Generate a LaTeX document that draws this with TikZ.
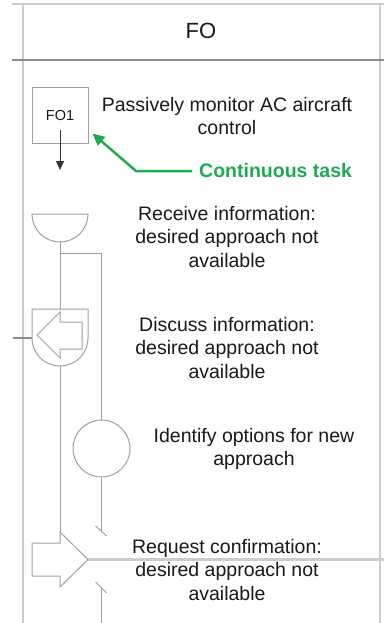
\documentclass[tikz,border=0pt]{standalone}
\usepackage{fontspec}
\setmainfont{Liberation Sans}
\usetikzlibrary{arrows.meta,positioning,calc}
\definecolor{lanegray}{RGB}{205,205,205}
\definecolor{shapegray}{RGB}{160,160,160}
\definecolor{darkline}{RGB}{140,140,140}
\definecolor{taskgreen}{RGB}{30,170,80}

\begin{document}
\begin{tikzpicture}[
  x=1pt, y=1pt,
  lane/.style={lanegray, line width=1.5pt},
  headline/.style={darkline, line width=1.2pt},
  sym/.style={draw=shapegray, line width=1pt},
  link/.style={shapegray, line width=1pt},
  inbound/.style={darkline, line width=2.5pt},
  outbound/.style={lanegray, line width=2.5pt},
  desc/.style={font=\fontsize{19.5}{23.5}\selectfont, align=center, text=black!90},
  note/.style={-{Triangle[length=9pt, width=8pt]}, black!80, line width=0.8pt},
  hint/.style={-{Triangle[length=12pt, width=11pt]}, taskgreen, line width=2.5pt}
]
  \useasboundingbox (0,0) rectangle (384,-623);

  % swim lane
  \draw[lane] (12,-4) -- (384,-4);
  \draw[lane] (23,-4) -- (23,-623);
  \draw[lane] (380,-4) -- (380,-623);
  \draw[headline] (12,-60) -- (384,-60);
  \node[font=\fontsize{22}{26}\selectfont, text=black!90] (lanehead) at (201,-31) {FO};

  % FO1 continuous task
  \node[sym, minimum width=56pt, minimum height=55pt, font=\fontsize{14.5}{17}\selectfont, text=black!90] (fo1) at (60,-115.5) {FO1};
  \node[desc] (fo1txt) at (227,-116) {Passively monitor AC aircraft\\control};
  \coordinate (fo1tail) at (60,-130);
  \coordinate (fo1next) at (60,-170);
  \draw[note] (fo1tail) -- (fo1next);

  \node[font=\fontsize{19.5}{23.5}\selectfont\bfseries, text=taskgreen, anchor=west, inner sep=1pt] (cont) at (198,-171) {Continuous task};
  \coordinate (bend) at (136,-171);
  \coordinate (hinttip) at ($(fo1.south east)+(4,10)$);
  \draw[hint] ([xshift=-6pt]cont.west) -- (bend) -- (hinttip);

  % receive information
  \coordinate (rcv) at (60,-214);
  \coordinate (rcvbot) at (60,-242);
  \draw[sym] ([xshift=-28pt]rcv) -- ([xshift=28pt]rcv) arc[start angle=0, end angle=-180, radius=28] -- cycle;
  \node[desc] (rcvtxt) at (227,-237) {Receive information:\\desired approach not\\available};

  % discuss information
  \coordinate (dsc) at (60,-338);
  \coordinate (dsctop) at (60,-309);
  \coordinate (dscbot) at (60,-366);
  \coordinate (dscleft) at (32,-338);
  \coordinate (dscin) at (13,-338);
  \draw[sym] (32,-309) -- (88,-309) -- (88,-338) arc[start angle=0, end angle=-180, radius=28] -- cycle;
  \draw[sym] (37,-335) -- (60,-312) -- (60,-322) -- (82,-322) -- (82,-349) -- (60,-349) -- (60,-358) -- cycle;
  \draw[inbound] (dscin) -- (dscleft);
  \node[desc] (dsctxt) at (227,-348) {Discuss information:\\desired approach not\\available};

  % identify options
  \node[sym, circle, minimum size=57pt, inner sep=0pt] (idf) at (101.5,-448.5) {};
  \node[desc] (idftxt) at (254,-449) {Identify options for new\\approach};

  % request confirmation
  \coordinate (reqtop) at (60,-532);
  \coordinate (reqtip) at (88,-559.5);
  \coordinate (reqout) at (384,-559.5);
  \draw[sym] (32,-543) -- (60,-543) -- (reqtop) -- (reqtip) -- (60,-587) -- (60,-576) -- (32,-576) -- cycle;
  \draw[outbound] (reqtip) -- (reqout);
  \node[desc] (reqtxt) at (227,-570) {Request confirmation:\\desired approach not\\available};

  % flow lines
  \coordinate (split) at (60,-253);
  \coordinate (jumpa) at (101.5,-531);
  \coordinate (jumpb) at (101.5,-587);
  \coordinate (laneend) at (101.5,-623);
  \draw[link] (rcvbot) -- (dsctop);
  \draw[link] (split) -| (idf.north);
  \draw[link] (dscbot) -- (reqtop);
  \draw[link] (idf.south) -- (jumpa);
  \draw[link] ([shift={(-6,5)}]jumpa) -- ([shift={(5,-5)}]jumpa);
  \draw[link] ([shift={(-6,5)}]jumpb) -- ([shift={(5,-6)}]jumpb);
  \draw[link] (jumpb) -- (laneend);
\end{tikzpicture}
\end{document}
